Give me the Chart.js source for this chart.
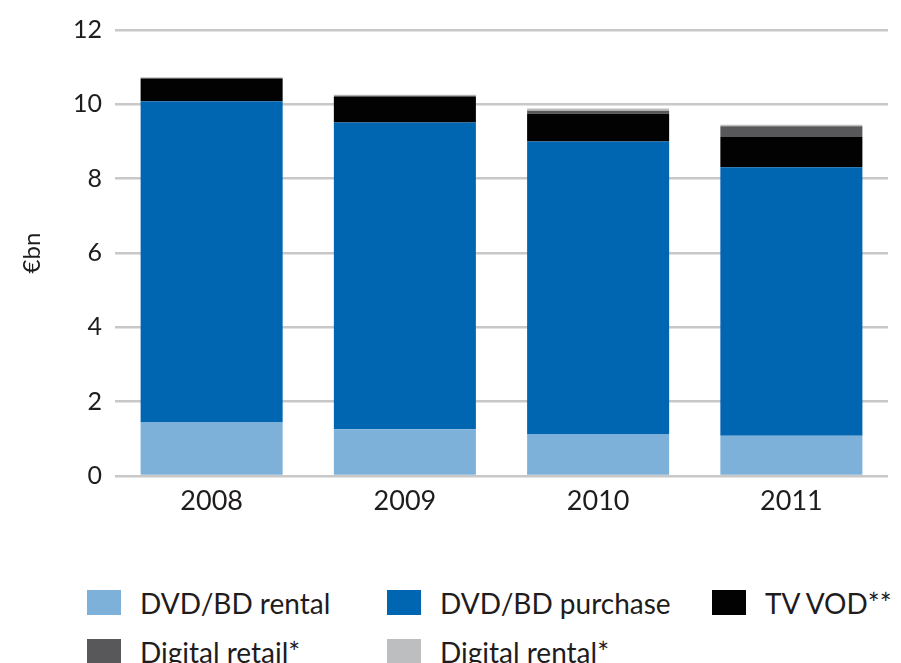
<!DOCTYPE html>
<html>
<head>
<meta charset="utf-8">
<script src="https://cdn.jsdelivr.net/npm/chart.js@4"></script>
<style>
    html, body { margin: 0; padding: 0; background: #fff; }
    #wrap { position: relative; width: 901px; height: 663px; overflow: hidden; }
    #chartCanvas { position: absolute; left: 0; top: 0; }
    #legend {
        position: absolute; left: 87px; top: 590px;
        display: grid; grid-template-columns: 300px 325px auto;
        row-gap: 24px;
        font-family: Lato, sans-serif; font-size: 28px; color: #1f1c1d;
    }
    .item { display: flex; align-items: center; height: 25px; white-space: nowrap; }
    .swatch { width: 34px; height: 25px; margin-right: 19px; flex: none; }
</style>
</head>
<body>
<div id="wrap">
    <canvas id="chartCanvas" width="901" height="540"></canvas>
    <div id="legend"></div>
</div>
<script>
const years = ['2008', '2009', '2010', '2011'];
const dvdRental = [1.44, 1.26, 1.13, 1.08];
const dvdPurchase = [8.64, 8.25, 7.87, 7.23];
const tvVod = [0.61, 0.69, 0.75, 0.81];
const digitalRetail = [0.02, 0.03, 0.08, 0.29];
const digitalRentalVals = [0.02, 0.03, 0.06, 0.04];
const yTicks = [0, 2, 4, 6, 8, 10, 12];

const seriesNames = ['DVD/BD rental', 'DVD/BD purchase', 'TV VOD**', 'Digital retail*', 'Digital rental*'];
const seriesColors = ['#7db1da', '#0066b2', '#020203', '#58585a', '#bdbec0'];
const seriesData = [dvdRental, dvdPurchase, tvVod, digitalRetail, digitalRentalVals];

const textColor = '#1f1c1d';
const fontFamily = 'Lato, sans-serif';

const ctx = document.getElementById('chartCanvas').getContext('2d');

const chart = new Chart(ctx, {
    type: 'bar',
    data: {
        labels: years,
        datasets: seriesNames.map((name, i) => ({
            label: name,
            data: seriesData[i],
            backgroundColor: seriesColors[i],
            borderWidth: 0,
            categoryPercentage: 1,
            barPercentage: 0.735
        }))
    },
    options: {
        responsive: false,
        animation: false,
        layout: {
            padding: { top: 30, right: 13, bottom: 0, left: 0 }
        },
        plugins: {
            legend: { display: false },
            tooltip: { enabled: false }
        },
        scales: {
            x: {
                stacked: true,
                grid: { display: false, drawTicks: false },
                border: { display: false },
                ticks: {
                    color: textColor,
                    padding: 9,
                    font: { family: fontFamily, size: 27 }
                },
                afterFit: (scale) => { scale.height = 64; }
            },
            y: {
                stacked: true,
                min: 0,
                max: 12,
                afterBuildTicks: (scale) => {
                    scale.ticks = yTicks.map(v => ({ value: v }));
                },
                grid: {
                    color: '#c8c8c8',
                    lineWidth: 2.5,
                    drawTicks: false
                },
                border: { display: false },
                ticks: {
                    color: textColor,
                    padding: 13,
                    font: { family: fontFamily, size: 25 }
                },
                title: {
                    display: true,
                    text: '€bn',
                    color: textColor,
                    font: { family: fontFamily, size: 24 },
                    padding: { top: 18, bottom: 0 }
                },
                afterFit: (scale) => { scale.width = 115; }
            }
        }
    }
});

// legend in fixed columns, built from the dataset names/colours
const legendEl = document.getElementById('legend');
seriesNames.forEach((name, i) => {
    const item = document.createElement('div');
    item.className = 'item';
    const sw = document.createElement('span');
    sw.className = 'swatch';
    sw.style.background = seriesColors[i];
    const txt = document.createElement('span');
    txt.textContent = name;
    item.appendChild(sw);
    item.appendChild(txt);
    legendEl.appendChild(item);
});
</script>
</body>
</html>
